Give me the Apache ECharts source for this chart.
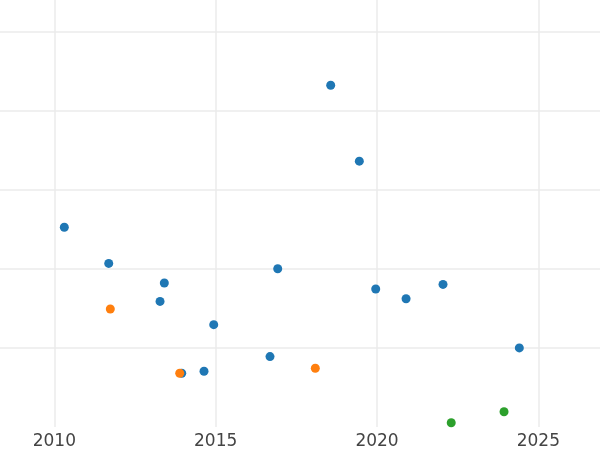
<!DOCTYPE html>
<html><head><meta charset="utf-8">
<script src="https://cdn.jsdelivr.net/npm/echarts@6/dist/echarts.min.js"></script>
<style>html,body{margin:0;padding:0;background:#fff}#c{width:600px;height:450px}</style>
</head><body><div id="c"></div>
<script>
var blueX = [2010.31, 2018.565, 2019.452, 2011.686, 2013.409, 2013.276, 2014.94, 2013.948, 2014.639, 2016.684, 2016.923, 2019.96, 2020.9, 2022.045, 2024.41];
var blueY = [2.524, 4.318, 3.359, 2.067, 1.819, 1.587, 1.293, 0.679, 0.704, 0.890, 2.0, 1.744, 1.621, 1.802, 0.999];
var orangeX = [2011.735, 2013.886, 2018.088];
var orangeY = [1.491, 0.679, 0.742];
var greenX = [2022.30, 2023.936];
var greenY = [0.053, 0.192];
var xTicks = [2010, 2015, 2020, 2025];

function pairs(xs, ys){ return xs.map(function(x,i){return [x, ys[i]];}); }
var chart = echarts.init(document.getElementById('c'));
var gridColor = '#ebebeb';
chart.setOption({
  animation: false,
  backgroundColor: '#fff',
  grid: {left: 0, right: 0, top: 0, bottom: 22.5, containLabel: false},
  xAxis: {
    type: 'value', min: 2008.317, max: 2026.91, splitNumber: 4,
    axisLine: {show: false}, axisTick: {show: false},
    axisLabel: {show: true, showMinLabel: false, showMaxLabel: false, margin: 6,
      color: '#444', fontSize: 17, fontFamily: 'DejaVu Sans',
      formatter: function(v){ return xTicks.indexOf(v) >= 0 ? String(v) : ''; }},
    splitLine: {show: true, showMinLine: false, showMaxLine: false, lineStyle: {color: gridColor, width: 1.5}}
  },
  yAxis: {
    type: 'value', min: 0, max: 5.395, interval: 1,
    axisLine: {show: false}, axisTick: {show: false}, axisLabel: {show: false},
    splitLine: {show: true, showMinLine: false, showMaxLine: false, lineStyle: {color: gridColor, width: 1.5}}
  },
  series: [
    {type: 'scatter', data: pairs(blueX, blueY), symbolSize: 9, itemStyle: {color: '#1f77b4', opacity: 1}},
    {type: 'scatter', data: pairs(orangeX, orangeY), symbolSize: 9, itemStyle: {color: '#ff7f0e', opacity: 1}},
    {type: 'scatter', data: pairs(greenX, greenY), symbolSize: 9, itemStyle: {color: '#2ca02c', opacity: 1}}
  ]
});
</script></body></html>
